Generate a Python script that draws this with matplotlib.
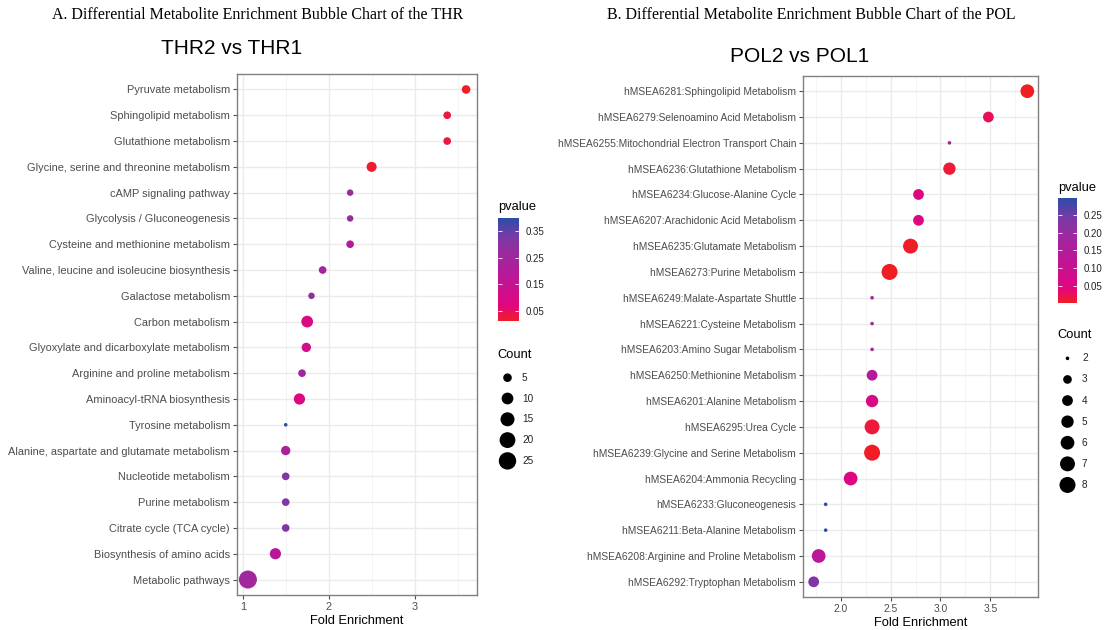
import numpy as np
import matplotlib
matplotlib.use('Agg')
import matplotlib.pyplot as plt
from matplotlib.colors import LinearSegmentedColormap
from matplotlib.ticker import AutoMinorLocator, FormatStrFormatter

plt.rcParams['font.family'] = ['Liberation Sans', 'DejaVu Sans']

W, H = 1106, 630

## THR2 vs THR1
thrPathways = ['Pyruvate metabolism', 'Sphingolipid metabolism', 'Glutathione metabolism',
               'Glycine, serine and threonine metabolism', 'cAMP signaling pathway',
               'Glycolysis / Gluconeogenesis', 'Cysteine and methionine metabolism',
               'Valine, leucine and isoleucine biosynthesis', 'Galactose metabolism',
               'Carbon metabolism', 'Glyoxylate and dicarboxylate metabolism',
               'Arginine and proline metabolism', 'Aminoacyl-tRNA biosynthesis',
               'Tyrosine metabolism', 'Alanine, aspartate and glutamate metabolism',
               'Nucleotide metabolism', 'Purine metabolism', 'Citrate cycle (TCA cycle)',
               'Biosynthesis of amino acids', 'Metabolic pathways']
thrFold = [3.60, 3.38, 3.38, 2.50, 2.25, 2.25, 2.25, 1.93, 1.80, 1.75,
           1.74, 1.69, 1.66, 1.50, 1.50, 1.50, 1.50, 1.50, 1.38, 1.06]
thrCount = [5, 4, 4, 7, 3, 3, 4, 4, 3, 10, 6, 4, 9, 2, 6, 4, 4, 4, 9, 27]
thrP = [0.013, 0.03, 0.03, 0.02, 0.27, 0.27, 0.19, 0.24, 0.29, 0.09,
        0.11, 0.26, 0.08, 0.40, 0.23, 0.31, 0.31, 0.31, 0.18, 0.25]
thrXTicks = [1, 2, 3]
thrPBreaks = [0.05, 0.15, 0.25, 0.35]
thrCountBreaks = [5, 10, 15, 20, 25]

## POL2 vs POL1
polPathways = ['hMSEA6281:Sphingolipid Metabolism', 'hMSEA6279:Selenoamino Acid Metabolism',
               'hMSEA6255:Mitochondrial Electron Transport Chain', 'hMSEA6236:Glutathione Metabolism',
               'hMSEA6234:Glucose-Alanine Cycle', 'hMSEA6207:Arachidonic Acid Metabolism',
               'hMSEA6235:Glutamate Metabolism', 'hMSEA6273:Purine Metabolism',
               'hMSEA6249:Malate-Aspartate Shuttle', 'hMSEA6221:Cysteine Metabolism',
               'hMSEA6203:Amino Sugar Metabolism', 'hMSEA6250:Methionine Metabolism',
               'hMSEA6201:Alanine Metabolism', 'hMSEA6295:Urea Cycle',
               'hMSEA6239:Glycine and Serine Metabolism', 'hMSEA6204:Ammonia Recycling',
               'hMSEA6233:Gluconeogenesis', 'hMSEA6211:Beta-Alanine Metabolism',
               'hMSEA6208:Arginine and Proline Metabolism', 'hMSEA6292:Tryptophan Metabolism']
polFold = [3.87, 3.48, 3.09, 3.09, 2.78, 2.78, 2.70, 2.49, 2.315, 2.315,
           2.315, 2.315, 2.315, 2.315, 2.315, 2.10, 1.85, 1.85, 1.78, 1.73]
polCount = [6, 4, 2, 5, 4, 4, 7, 8, 2, 2, 2, 4, 5, 7, 8, 6, 2, 2, 6, 4]
polP = [0.001, 0.025, 0.17, 0.01, 0.05, 0.05, 0.004, 0.002, 0.19, 0.19,
        0.19, 0.14, 0.06, 0.012, 0.003, 0.05, 0.297, 0.297, 0.13, 0.235]
polXTicks = [2.0, 2.5, 3.0, 3.5]
polPBreaks = [0.05, 0.10, 0.15, 0.20, 0.25]
polCountBreaks = [2, 3, 4, 5, 6, 7, 8]

# red -> pink -> purple -> blue, like the ggplot gradient
cmap = LinearSegmentedColormap.from_list('pval', [
    (0.00, '#F01E23'), (0.05, '#EC1645'), (0.15, '#E0067F'), (0.45, '#B8189A'),
    (0.65, '#9B2A9E'), (0.80, '#7E38A6'), (1.00, '#2C4DA8')])


def px_rect(l, t, r, b):
    return [l / W, 1 - b / H, (r - l) / W, (b - t) / H]


def bubble_size(count, lo, hi, dmin, dmax):
    # area scale: diameter grows with sqrt of rescaled count (px -> pt^2)
    frac = (np.asarray(count, float) - lo) / (hi - lo)
    d = dmin + (dmax - dmin) * np.sqrt(np.clip(frac, 0, None))
    return (d * 72 / 100) ** 2


def draw_panel(fig, axRect, names, fold, count, pval, xticks, xfmt, fsize,
               title, titleXY, cbRect, pBreaks, cntRect, cntBreaks, dRange):
    ax = fig.add_axes(px_rect(*axRect))
    n = len(names)
    y = np.arange(n)
    lo, hi = min(count), max(count)
    sc = ax.scatter(fold, y, s=bubble_size(count, lo, hi, *dRange), c=pval, cmap=cmap,
                    vmin=min(pval), vmax=max(pval), edgecolors='none', zorder=3)
    ax.set_yticks(y)
    ax.set_yticklabels(names)
    ax.set_ylim(n - 1 + 0.6, -0.6)
    pad = 0.05 * (max(fold) - min(fold))
    ax.set_xlim(min(fold) - pad, max(fold) + pad)
    ax.set_xticks(xticks)
    ax.xaxis.set_major_formatter(FormatStrFormatter(xfmt))
    ax.xaxis.set_minor_locator(AutoMinorLocator(2))
    ax.grid(which='major', color='#EBEBEB', lw=1.0)
    ax.grid(which='minor', axis='x', color='#F3F3F3', lw=0.6)
    ax.set_axisbelow(True)
    ax.tick_params(which='major', labelsize=fsize, labelcolor='#4D4D4D', color='#4D4D4D',
                   length=3, width=0.8, pad=2)
    ax.tick_params(which='minor', length=0)
    for sp in ax.spines.values():
        sp.set_color('#808080')
        sp.set_linewidth(1.0)
    ax.set_xlabel('Fold Enrichment', fontsize=9.3, labelpad=2)
    fig.text(titleXY[0] / W, 1 - titleXY[1] / H, title, ha='center', va='center', fontsize=15)

    # pvalue colorbar
    cax = fig.add_axes(px_rect(*cbRect))
    cb = fig.colorbar(sc, cax=cax, ticks=pBreaks)
    cb.outline.set_visible(False)
    cb.ax.yaxis.set_major_formatter(FormatStrFormatter('%.2f'))
    cax.tick_params(left=True, right=True, direction='in', length=3, width=0.6,
                    color='white', labelsize=7, labelcolor='#222222', pad=5)
    cax.text(0, 1.1, 'pvalue', transform=cax.transAxes, ha='left', va='center', fontsize=9.3)

    # Count size legend
    lax = fig.add_axes(px_rect(*cntRect))
    lax.set_axis_off()
    kw = cntRect[2] - cntRect[0]
    k = np.arange(len(cntBreaks))
    lax.scatter(np.full(len(k), 10.5), k, s=bubble_size(cntBreaks, lo, hi, *dRange),
                color='black', edgecolors='none')
    for i, b in zip(k, cntBreaks):
        lax.text(25, i, str(b), ha='left', va='center', fontsize=7.2, color='#222222')
    lax.text(0, -1.1, 'Count', ha='left', va='center', fontsize=9.3)
    lax.set_xlim(0, kw)
    lax.set_ylim(len(k) - 0.5, -0.5)
    return ax


fig = plt.figure(figsize=(W / 100, H / 100), dpi=100)

fig.text(258 / W, 1 - 15 / H, 'A. Differential Metabolite Enrichment Bubble Chart of the THR',
         ha='center', va='center', fontsize=11.5, family='Liberation Serif')
fig.text(811 / W, 1 - 15 / H, 'B. Differential Metabolite Enrichment Bubble Chart of the POL',
         ha='center', va='center', fontsize=11.5, family='Liberation Serif')

draw_panel(fig, (237, 74, 477, 595), thrPathways, thrFold, thrCount, thrP, thrXTicks, '%d', 7.9,
           'THR2 vs THR1', (232, 48), (498, 217.7, 519, 321), thrPBreaks,
           (497, 367.3, 545, 471.3), thrCountBreaks, (3.6, 18.0))
draw_panel(fig, (803, 75.7, 1038, 597.3), polPathways, polFold, polCount, polP, polXTicks, '%.1f', 7.35,
           'POL2 vs POL1', (800, 57), (1058, 198.3, 1077, 303.3), polPBreaks,
           (1057, 347.8, 1100, 495.5), polCountBreaks, (3.6, 16.0))

fig.savefig('out.png', dpi=100)
